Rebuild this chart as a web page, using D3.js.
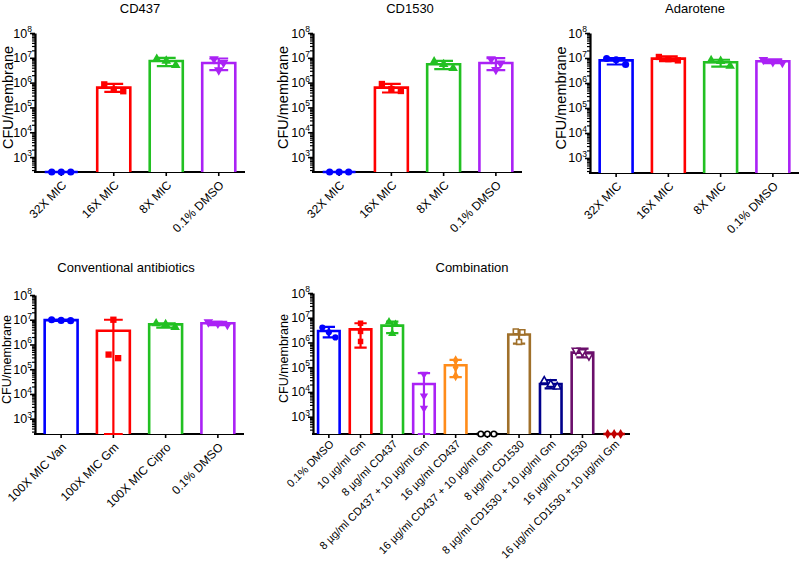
<!DOCTYPE html>
<html><head><meta charset="utf-8">
<script src="https://cdn.jsdelivr.net/npm/d3@7"></script>
<style>
body{margin:0;background:#fff}
svg{display:block}
text{font-family:"Liberation Sans",Arial,Helvetica,sans-serif;fill:#000}
</style>
</head><body>
<svg id="c" width="800" height="565"></svg>
<script>
// ---------------- DATA ----------------
const titles = ["CD437", "CD1530", "Adarotene", "Conventional antibiotics", "Combination"];
const yLabel = "CFU/membrane";
const yTickExponents = [3, 4, 5, 6, 7, 8];

const catsMIC = ["32X MIC", "16X MIC", "8X MIC", "0.1% DMSO"];
const catsConv = ["100X MIC Van", "100X MIC Gm", "100X MIC Cipro", "0.1% DMSO"];
const catsComb = ["0.1% DMSO", "10 µg/ml Gm", "8 µg/ml CD437", "8 µg/ml CD437 + 10 µg/ml Gm",
  "16 µg/ml CD437", "16 µg/ml CD437 + 10 µg/ml Gm", "8 µg/ml CD1530",
  "8 µg/ml CD1530 + 10 µg/ml Gm", "16 µg/ml CD1530", "16 µg/ml CD1530 + 10 µg/ml Gm"];

// CD437
const cd437Mean = [0, 6.3e5, 7.4e6, 6.2e6];
const cd437Hi   = [0, 8.9e5, 1.0e7, 9.4e6];
const cd437Lo   = [0, 4.2e5, 4.6e6, 3.2e6];
const cd437Pts  = [[0, 0, 0], [8.5e5, 4.5e5, 5.2e5], [9.0e6, 7.5e6, 5.0e6], [9.0e6, 6.3e6, 3.2e6]];
// CD1530
const cd1530Mean = [0, 6.3e5, 5.5e6, 6.2e6];
const cd1530Hi   = [0, 8.9e5, 7.5e6, 9.8e6];
const cd1530Lo   = [0, 4.0e5, 3.5e6, 3.2e6];
const cd1530Pts  = [[0, 0, 0], [8.8e5, 4.6e5, 5.5e5], [7.0e6, 5.5e6, 3.8e6], [9.0e6, 6.0e6, 3.3e6]];
// Adarotene
const adaMean = [8.0e6, 9.4e6, 6.8e6, 7.4e6];
const adaHi   = [1.0e7, 1.15e7, 8.5e6, 8.8e6];
const adaLo   = [5.5e6, 7.5e6, 4.5e6, 6.2e6];
const adaPts  = [[9.5e6, 8.5e6, 5.5e6], [1.1e7, 9.0e6, 8.0e6], [8.0e6, 7.5e6, 4.8e6], [8.5e6, 7.0e6, 6.5e6]];
// Conventional antibiotics
const convMean = [9.6e6, 3.6e6, 6.5e6, 7.2e6];
const convHi   = [1.0e7, 1.0e7, 7.2e6, 8.3e6];
const convLo   = [9.0e6, 0, 4.8e6, 6.0e6];
const convPts  = [[1.0e7, 9.2e6, 9.4e6], [1.0e7, 2.8e5, 3.9e5], [7.0e6, 6.5e6, 5.0e6], [8.0e6, 7.0e6, 6.3e6]];
// Combination
const combMean = [2.9e6, 3.4e6, 4.8e6, 2.1e4, 1.2e5, 0, 2.1e6, 2.1e4, 3.9e5, 0];
const combHi   = [4.3e6, 6.0e6, 7.0e6, 5.8e4, 2.0e5, 0, 3.2e6, 3.0e4, 5.6e5, 0];
const combLo   = [1.6e6, 6.2e5, 2.4e6, 0, 4.0e4, 0, 9.0e5, 1.4e4, 2.5e5, 0];
const combPts  = [[4.0e6, 2.6e6, 1.6e6], [6.0e6, 2.8e6, 1.1e6], [6.8e6, 5.4e6, 2.3e6], [5.2e4, 7.0e3, 2.2e3],
  [1.9e5, 1.0e5, 4.4e4], [0, 0, 0], [2.8e6, 2.6e6, 1.05e6], [2.8e4, 2.0e4, 1.6e4], [4.8e5, 4.2e5, 2.9e5], [0, 0, 0]];

// ---------------- STYLE ----------------
const colorsMIC = ["#0000ff", "#ff0000", "#22c022", "#aa22f5"];
const colorsComb = ["#0000ff", "#ff0000", "#22c022", "#aa22f5", "#ff8c1a", "#000000", "#a0702a", "#00008b", "#6b0f6b", "#c00000"];
const marksMIC = ["circle", "square", "triangle", "tridown"];
const marksComb = ["circle", "square", "triangle", "tridown", "diamond", "ocircle", "osquare", "otriangle", "otridown", "diamond"];

const panels = [
  {title: titles[0], cats: catsMIC, mean: cd437Mean, hi: cd437Hi, lo: cd437Lo, pts: cd437Pts, colors: colorsMIC, marks: marksMIC,
   L: {x0: 35, x1: 245, yTop: 33, yBot: 172, ymin: 250, tx: 140, ty: 13, lx: 13, lfs: 14.5, pad: 0.37, jit: 9.5, ms: 40, xfs: 12, xoff: 11}},
  {title: titles[1], cats: catsMIC, mean: cd1530Mean, hi: cd1530Hi, lo: cd1530Lo, pts: cd1530Pts, colors: colorsMIC, marks: marksMIC,
   L: {x0: 313, x1: 522, yTop: 33, yBot: 172, ymin: 250, tx: 410, ty: 13, lx: 288, lfs: 14.5, pad: 0.37, jit: 9.5, ms: 40, xfs: 12, xoff: 11}},
  {title: titles[2], cats: catsMIC, mean: adaMean, hi: adaHi, lo: adaLo, pts: adaPts, colors: colorsMIC, marks: marksMIC,
   L: {x0: 590, x1: 799, yTop: 33, yBot: 173, ymin: 250, tx: 695, ty: 13, lx: 566, lfs: 14.5, pad: 0.37, jit: 9.5, ms: 40, xfs: 12, xoff: 11}},
  {title: titles[3], cats: catsConv, mean: convMean, hi: convHi, lo: convLo, pts: convPts, colors: colorsMIC, marks: marksMIC,
   L: {x0: 35, x1: 244, yTop: 295, yBot: 434, ymin: 240, tx: 126, ty: 272, lx: 11, lfs: 12.5, pad: 0.37, jit: 9.5, ms: 40, xfs: 12, xoff: 11}},
  {title: titles[4], cats: catsComb, mean: combMean, hi: combHi, lo: combLo, pts: combPts, colors: colorsComb, marks: marksComb,
   L: {x0: 313, x1: 630, yTop: 293, yBot: 434, ymin: 200, tx: 472, ty: 272, lx: 288, lfs: 12.5, pad: 0.32, jit: 6.5, ms: 30, xfs: 11, xoff: 8}}
];

const svg = d3.select("#c");

function jitterOffsets(vals, y, ymin, spacing) {
  const idx = vals.map((v, i) => ({i, py: y(Math.max(v, ymin))})).sort((a, b) => a.py - b.py);
  const clusters = [];
  idx.forEach(p => {
    const last = clusters[clusters.length - 1];
    if (last && p.py - last[last.length - 1].py < 6) last.push(p); else clusters.push([p]);
  });
  const off = new Array(vals.length).fill(0);
  clusters.forEach(c => c.forEach((p, k) => { off[p.i] = (k - (c.length - 1) / 2) * spacing; }));
  return off;
}

panels.forEach(P => {
  const L = P.L;
  const g = svg.append("g");
  const x = d3.scaleBand().domain(P.cats).range([L.x0, L.x1]).paddingInner(L.pad).paddingOuter(L.pad / 2);
  const y = d3.scaleLog().domain([L.ymin, 1e8]).range([L.yBot, L.yTop]);
  const bw = x.bandwidth();
  const cx = c => x(c) + bw / 2;

  // title
  g.append("text").attr("x", L.tx).attr("y", L.ty).attr("text-anchor", "middle")
    .attr("font-size", 13).text(P.title);

  // y label
  g.append("text").attr("transform", `translate(${L.lx},${(L.yTop + L.yBot) / 2 - 5}) rotate(-90)`)
    .attr("text-anchor", "middle").attr("font-size", L.lfs).text(yLabel);

  // minor ticks
  const minor = [];
  for (let e = 2; e < 8; e++) for (let m = 2; m <= 9; m++) { const v = m * Math.pow(10, e); if (v > L.ymin && v < 1e8) minor.push(v); }
  const major = yTickExponents.map(e => Math.pow(10, e));
  g.append("g").attr("transform", `translate(${L.x0},0)`)
    .call(d3.axisLeft(y).tickValues(minor).tickSize(3).tickFormat(""))
    .call(a => a.select(".domain").remove())
    .selectAll("line").attr("stroke", "#000").attr("stroke-width", 1.2);
  const ya = g.append("g").attr("transform", `translate(${L.x0},0)`)
    .call(d3.axisLeft(y).tickValues(major).tickSize(5).tickSizeOuter(0).tickFormat(""));
  ya.select(".domain").attr("stroke", "#000").attr("stroke-width", 2.2);
  ya.selectAll(".tick line").attr("stroke", "#000").attr("stroke-width", 1.6);
  yTickExponents.forEach(e => {
    const t = g.append("text").attr("x", L.x0 - 3).attr("y", y(Math.pow(10, e)) + 4.5)
      .attr("text-anchor", "end").attr("font-size", 12.5);
    t.append("tspan").text("10");
    t.append("tspan").attr("dy", -5.5).attr("font-size", 8.5).text(e);
  });

  // x axis
  const xa = g.append("g").attr("transform", `translate(0,${L.yBot})`)
    .call(d3.axisBottom(x).tickSize(4).tickSizeOuter(0).tickFormat(""));
  xa.select(".domain").attr("stroke", "#000").attr("stroke-width", 2.2)
    .attr("d", `M${L.x0 - 1},0H${L.x1}`);
  xa.selectAll(".tick line").attr("stroke", "#000").attr("stroke-width", 1.6);
  P.cats.forEach(c => {
    g.append("text").attr("transform", `translate(${cx(c) + 3},${L.yBot + L.xoff}) rotate(-45)`)
      .attr("text-anchor", "end").attr("dy", "0.35em").attr("font-size", L.xfs).text(c);
  });

  // bars
  P.cats.forEach((c, i) => {
    const col = P.colors[i];
    const xl = x(c), xr = xl + bw;
    const yt = y(Math.max(P.mean[i], L.ymin));
    g.append("path").attr("d", `M${xl},${L.yBot}V${yt}H${xr}V${L.yBot}`)
      .attr("fill", "#fff").attr("stroke", col).attr("stroke-width", 2.6);
  });

  // error bars
  P.cats.forEach((c, i) => {
    if (!(P.mean[i] > 0)) return;
    const col = P.colors[i];
    const xc = cx(c), cap = bw * 0.57;
    const yh = y(P.hi[i]), yl = y(Math.max(P.lo[i], L.ymin));
    g.append("path").attr("d", `M${xc},${yl}V${yh}M${xc - cap / 2},${yh}H${xc + cap / 2}M${xc - cap / 2},${yl}H${xc + cap / 2}`)
      .attr("fill", "none").attr("stroke", col).attr("stroke-width", 2.2);
  });

  // points
  P.cats.forEach((c, i) => {
    const col = P.colors[i];
    const off = jitterOffsets(P.pts[i], y, L.ymin, L.jit);
    const kind = P.marks[i];
    const open = kind.startsWith("o");
    const base = open ? kind.slice(1) : kind;
    let t = d3.symbolCircle, rot = 0;
    if (base === "square") t = d3.symbolSquare;
    else if (base === "triangle") t = d3.symbolTriangle;
    else if (base === "tridown") { t = d3.symbolTriangle; rot = 180; }
    else if (base === "diamond") t = d3.symbolDiamond;
    const path = d3.symbol().type(t).size(open ? L.ms * 0.8 : L.ms)();
    P.pts[i].forEach((v, k) => {
      g.append("path").attr("d", path)
        .attr("transform", `translate(${cx(c) + off[k]},${y(Math.max(v, L.ymin))}) rotate(${rot})`)
        .attr("fill", open ? "#fff" : col).attr("stroke", col).attr("stroke-width", open ? 1.6 : 0);
    });
  });
});
</script>
</body></html>
